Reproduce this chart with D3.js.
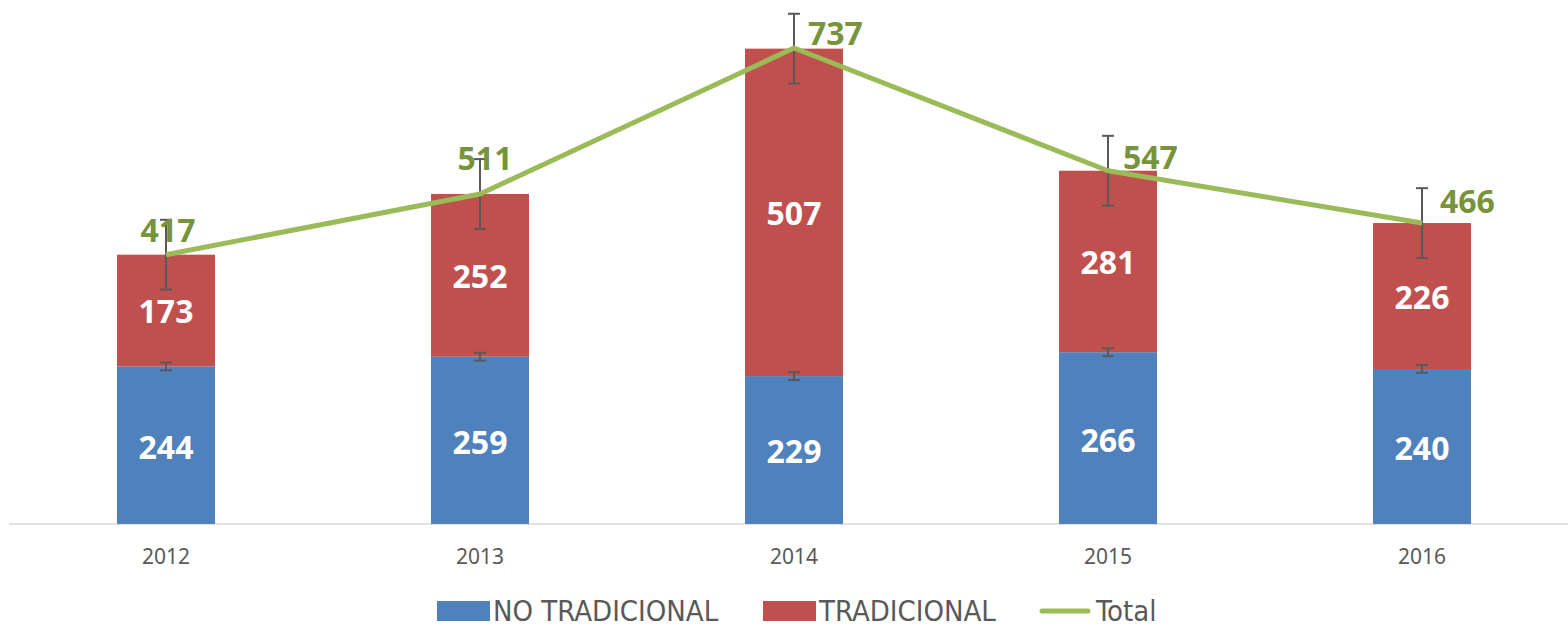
<!DOCTYPE html>
<html>
<head>
<meta charset="utf-8">
<script src="https://cdn.jsdelivr.net/npm/d3@7"></script>
<style>
  body { margin: 0; background: #fff; }
  svg { display: block; }
</style>
</head>
<body>
<svg id="chart"></svg>
<script>
// Data
const years = ['2012', '2013', '2014', '2015', '2016'];
const noTradicional = [244, 259, 229, 266, 240];
const tradicional = [173, 252, 507, 281, 226];
const totals = [417, 511, 737, 547, 466];
const errNoTrad = [6, 6, 6, 6, 6];
const errTrad = [54, 54, 54, 54, 54];

const width = 1568;
const height = 627;

const colors = { blue: '#4F81BD', red: '#C0504D', green: '#9BBB59', greenText: '#77933C', grey: '#595959' };

const svg = d3.select('#chart')
  .attr('width', width)
  .attr('height', height);

// Scales
const x = d3.scaleBand()
  .domain(years)
  .range([9, 1579])
  .paddingInner(0.688)
  .paddingOuter(0.344);

const y = d3.scaleLinear()
  .domain([0, 737])
  .range([524, 48]);

const cx = d => x(d) + x.bandwidth() / 2;

// Bottom axis
const axis = svg.append('g')
  .attr('transform', `translate(0,${y(0)})`)
  .call(d3.axisBottom(x).tickSize(0).tickPadding(25));
axis.select('.domain').attr('stroke', '#D9D9D9').attr('stroke-width', 1.5).attr('d', 'M9,0H1568');
axis.selectAll('text')
  .attr('font-family', 'Noto Sans, sans-serif')
  .attr('font-size', 21)
  .attr('fill', colors.grey);

// Stacked bars
const rows = years.map((yr, i) => ({ yr, nt: noTradicional[i], t: tradicional[i], total: totals[i], i }));

svg.append('g').selectAll('rect')
  .data(rows)
  .join('rect')
  .attr('x', d => x(d.yr))
  .attr('width', x.bandwidth())
  .attr('y', d => y(d.nt))
  .attr('height', d => y(0) - y(d.nt))
  .attr('fill', colors.blue);

svg.append('g').selectAll('rect')
  .data(rows)
  .join('rect')
  .attr('x', d => x(d.yr))
  .attr('width', x.bandwidth())
  .attr('y', d => y(d.nt + d.t))
  .attr('height', d => y(d.nt) - y(d.nt + d.t))
  .attr('fill', colors.red);

// Error bars
function errorBars(center, err) {
  const g = svg.append('g').attr('stroke', colors.grey).attr('stroke-width', 2).attr('fill', 'none');
  rows.forEach(d => {
    const v = center(d), e = err[d.i], xc = cx(d.yr);
    g.append('line').attr('x1', xc).attr('x2', xc).attr('y1', y(v - e)).attr('y2', y(v + e));
    g.append('line').attr('x1', xc - 6).attr('x2', xc + 6).attr('y1', y(v - e)).attr('y2', y(v - e));
    g.append('line').attr('x1', xc - 6).attr('x2', xc + 6).attr('y1', y(v + e)).attr('y2', y(v + e));
  });
}
errorBars(d => d.nt, errNoTrad);
errorBars(d => d.nt + d.t, errTrad);

// Total line
svg.append('path')
  .datum(rows)
  .attr('fill', 'none')
  .attr('stroke', colors.green)
  .attr('stroke-width', 5)
  .attr('stroke-linejoin', 'round')
  .attr('d', d3.line().x(d => cx(d.yr)).y(d => y(d.total)));

// Segment labels
const labelFont = 'Noto Sans, Open Sans, sans-serif';
svg.append('g').selectAll('text')
  .data(rows)
  .join('text')
  .attr('x', d => cx(d.yr))
  .attr('y', d => (y(0) + y(d.nt)) / 2)
  .attr('dy', '0.42em')
  .attr('text-anchor', 'middle')
  .attr('font-family', labelFont)
  .attr('font-weight', 'bold')
  .attr('font-size', 32)
  .attr('fill', '#fff')
  .text(d => d.nt);

svg.append('g').selectAll('text')
  .data(rows)
  .join('text')
  .attr('x', d => cx(d.yr))
  .attr('y', d => (y(d.nt) + y(d.nt + d.t)) / 2)
  .attr('dy', '0.4em')
  .attr('text-anchor', 'middle')
  .attr('font-family', labelFont)
  .attr('font-weight', 'bold')
  .attr('font-size', 32)
  .attr('fill', '#fff')
  .text(d => d.t);

// Total labels (first two sit above the point, the rest to the right)
const totalOffsets = [[2, -13, 'middle'], [5, -24, 'middle'], [14, -3, 'start'], [15, -2, 'start'], [18, -10, 'start']];
svg.append('g').selectAll('text')
  .data(rows)
  .join('text')
  .attr('x', d => cx(d.yr) + totalOffsets[d.i][0])
  .attr('y', d => y(d.total) + totalOffsets[d.i][1])
  .attr('text-anchor', d => totalOffsets[d.i][2])
  .attr('font-family', labelFont)
  .attr('font-weight', 'bold')
  .attr('font-size', 32)
  .attr('fill', colors.greenText)
  .text(d => d.total);

// Legend
const legendFont = 'Liberation Sans Narrow, DejaVu Sans Condensed, Noto Sans, sans-serif';
const legendItems = [
  { label: 'NO TRADICIONAL', type: 'rect', color: colors.blue, x: 437 },
  { label: 'TRADICIONAL', type: 'rect', color: colors.red, x: 763 },
  { label: 'Total', type: 'line', color: colors.green, x: 1040 }
];
const legend = svg.append('g').attr('transform', 'translate(0,611)');
legendItems.forEach(item => {
  if (item.type === 'rect') {
    legend.append('rect').attr('x', item.x).attr('y', -10).attr('width', 53).attr('height', 20).attr('fill', item.color);
  } else {
    legend.append('line').attr('x1', item.x + 2).attr('x2', item.x + 48).attr('y1', 0).attr('y2', 0)
      .attr('stroke', item.color).attr('stroke-width', 5).attr('stroke-linecap', 'round');
  }
  legend.append('text')
    .attr('x', item.x + 56)
    .attr('y', 0)
    .attr('dy', '0.36em')
    .attr('font-family', legendFont)
    .attr('font-size', 29)
    .attr('fill', colors.grey)
    .text(item.label);
});
</script>
</body>
</html>
